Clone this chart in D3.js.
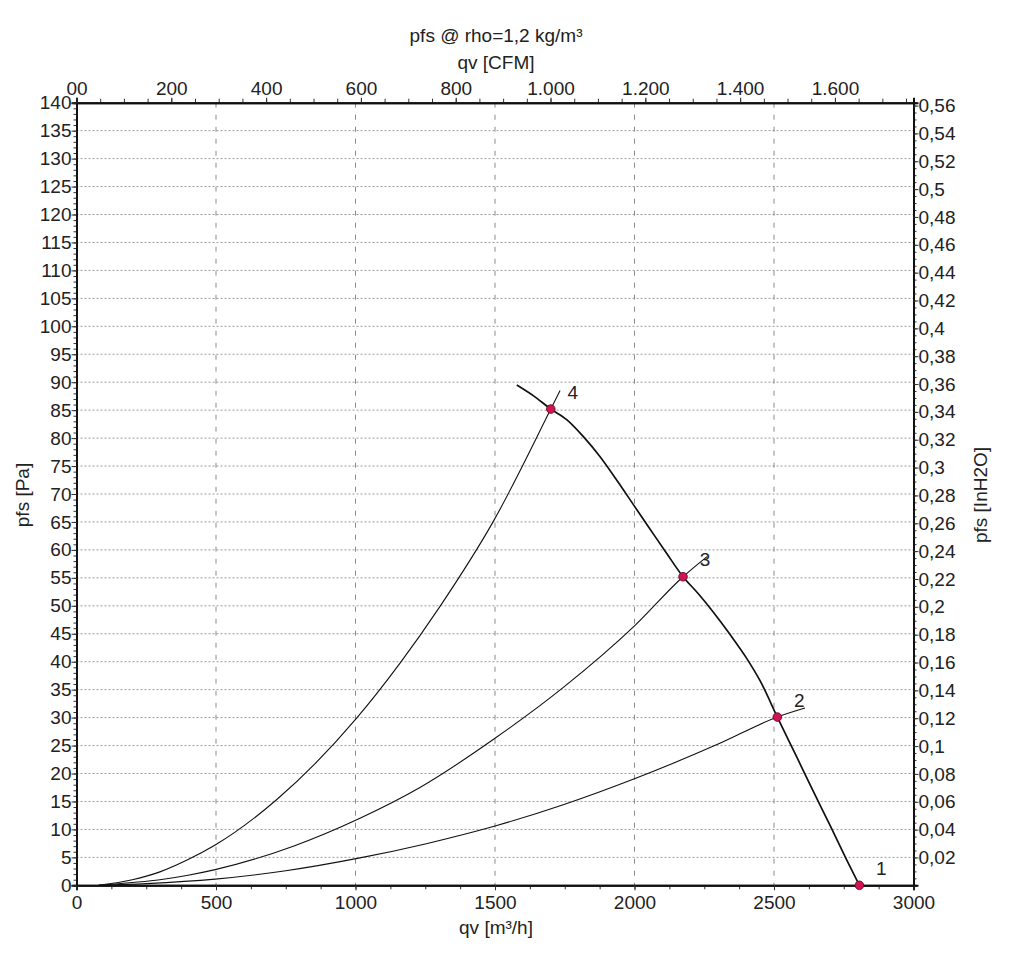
<!DOCTYPE html>
<html><head><meta charset="utf-8">
<script src="https://cdn.jsdelivr.net/npm/d3@7/dist/d3.min.js"></script>
<style>
body{margin:0;background:#fff;}
text{font-family:"Liberation Sans",Arial,sans-serif;fill:#222;}
</style></head>
<body><svg id="c" width="1024" height="969"></svg>
<script>
// ---- data ----
const fanQ = [1578,1637,1700,1757,1816,1876,1936,1996,2056,2115,2174,2228,2282,2342,2402,2450,2512,2581,2641,2701,2760,2806];
const fanP = [89.5,87.6,85.2,83.3,80.3,76.7,72.5,68.1,63.7,59.4,55.2,52.2,48.9,44.9,40.6,36.6,30.1,23.0,16.8,10.7,4.6,0];

const sys4Q = [80,200,299,400,497,717,1004,1159,1303,1494,1700,1733];
const sys4P = [0,1.0,2.4,4.6,7.2,15.3,29.9,39.7,49.9,65.1,85.2,88.5];
const sys3Q = [80,200,299,400,497,777,1016,1231,1500,1745,2002,2174,2260];
const sys3P = [0,0.5,1.0,1.8,2.8,7.0,12.0,17.5,26.3,35.4,46.5,55.2,58.8];
const sys2Q = [80,250,497,750,1016,1250,1500,1750,2002,2306,2512,2611];
const sys2P = [0,0.3,1.1,2.6,4.9,7.4,10.6,14.5,19.1,25.4,30.1,31.7];

const opLabels = ["1","2","3","4"];
const opQ = [2806,2512,2174,1700];
const opP = [0,30.1,55.2,85.2];

const xTicks = [0,500,1000,1500,2000,2500,3000];
const yTicks = d3.range(0,141,5);
const cfmTicks = [0,200,400,600,800,1000,1200,1400,1600];
const cfmLabels = ["00","200","400","600","800","1.000","1.200","1.400","1.600"];
const inTicks = [0.02,0.04,0.06,0.08,0.1,0.12,0.14,0.16,0.18,0.2,0.22,0.24,0.26,0.28,0.3,0.32,0.34,0.36,0.38,0.4,0.42,0.44,0.46,0.48,0.5,0.52,0.54,0.56];

const CFM_PER_M3H = 0.588578;
const INH2O_PER_PA = 0.00401463;

// ---- layout ----
const FS = "19px";
const L=76.5, R=913.5, T=102.7, B=885.3;
const svg = d3.select("#c");
const x = d3.scaleLinear().domain([0,3000]).range([L,R]);
const y = d3.scaleLinear().domain([0,140]).range([B,T]);
const xT = d3.scaleLinear().domain([0,3000*CFM_PER_M3H]).range([L,R]);
const yR = d3.scaleLinear().domain([0,140*INH2O_PER_PA]).range([B,T]);

// grid
const g = svg.append("g");
g.selectAll(".hg").data(yTicks.filter(v=>v>0&&v<140)).join("line")
  .attr("x1",L).attr("x2",R).attr("y1",d=>y(d)).attr("y2",d=>y(d))
  .attr("stroke","#9a9a9a").attr("stroke-width",1).attr("stroke-dasharray","2,2");
g.selectAll(".vg").data(xTicks.filter(v=>v>0&&v<3000)).join("line")
  .attr("x1",d=>x(d)).attr("x2",d=>x(d)).attr("y1",T).attr("y2",B)
  .attr("stroke","#8a8a8a").attr("stroke-width",1).attr("stroke-dasharray","5,7");

function styleAxis(sel){
  sel.selectAll("path.domain").attr("stroke","#111").attr("stroke-width",2);
  sel.selectAll(".tick line").attr("stroke","#333");
  sel.selectAll("text").attr("font-size",FS).attr("fill","#222");
}
// minor ticks
const minorL = d3.range(0,141,1), minorB = d3.range(0,3001,125), minorT = d3.range(0,1766,50), minorR = d3.range(0,0.5621,0.005);
const ax = svg.append("g");
ax.append("g").attr("transform",`translate(${L},0)`).call(d3.axisLeft(y).tickValues(minorL).tickSize(3).tickFormat(""));
ax.append("g").attr("transform",`translate(0,${B})`).call(d3.axisBottom(x).tickValues(minorB).tickSize(4).tickFormat(""));
ax.append("g").attr("transform",`translate(0,${T})`).call(d3.axisTop(xT).tickValues(minorT).tickSize(4).tickFormat(""));
ax.append("g").attr("transform",`translate(${R},0)`).call(d3.axisRight(yR).tickValues(minorR).tickSize(3).tickFormat(""));
ax.selectAll("g").each(function(){styleAxis(d3.select(this));});

const aL = svg.append("g").attr("transform",`translate(${L},0)`)
  .call(d3.axisLeft(y).tickValues(yTicks).tickSize(5).tickPadding(0).tickFormat(d3.format("d")));
const aB = svg.append("g").attr("transform",`translate(0,${B})`)
  .call(d3.axisBottom(x).tickValues(xTicks).tickSize(5).tickPadding(5).tickFormat(d3.format("d")));
const aT = svg.append("g").attr("transform",`translate(0,${T})`)
  .call(d3.axisTop(xT).tickValues(cfmTicks).tickSize(5).tickPadding(3).tickFormat((d,i)=>cfmLabels[i]));
const aR = svg.append("g").attr("transform",`translate(${R},0)`)
  .call(d3.axisRight(yR).tickValues(inTicks).tickSize(5).tickPadding(0)
    .tickFormat(d=>String(+d.toFixed(3)).replace(".",",")));
[aL,aB,aT,aR].forEach(styleAxis);

// curves
const line = d3.line().x(d=>x(d[0])).y(d=>y(d[1])).curve(d3.curveMonotoneX);
const plot = svg.append("g");
[[sys2Q,sys2P],[sys3Q,sys3P],[sys4Q,sys4P]].forEach(([q,p])=>{
  plot.append("path").datum(q.map((v,i)=>[v,p[i]])).attr("d",line)
    .attr("fill","none").attr("stroke","#111").attr("stroke-width",1.1);
});
plot.append("path").datum(fanQ.map((v,i)=>[v,fanP[i]])).attr("d",line)
  .attr("fill","none").attr("stroke","#111").attr("stroke-width",1.7);

// operating points
plot.selectAll("circle").data(opQ).join("circle")
  .attr("cx",d=>x(d)).attr("cy",(d,i)=>y(opP[i])).attr("r",4.3)
  .attr("fill","#d01452").attr("stroke","#6a0a25").attr("stroke-width",0.9);
plot.selectAll("text.op").data(opLabels).join("text").attr("class","op")
  .attr("x",(d,i)=>x(opQ[i])+22).attr("y",(d,i)=>y(opP[i])-17)
  .attr("text-anchor","middle").attr("dominant-baseline","central")
  .attr("font-size",FS).text(d=>d);

// titles
const title = (t,xx,yy,rot)=>svg.append("text")
  .attr("transform",`translate(${xx},${yy})`+(rot?" rotate(-90)":""))
  .attr("text-anchor","middle").attr("dominant-baseline","central")
  .attr("font-size",FS).text(t);
title("pfs @ rho=1,2 kg/m³",496,35);
title("qv [CFM]",496,62);
title("qv [m³/h]",496,927);
title("pfs [Pa]",22,495,true);
title("pfs [InH2O]",980,495,true);
</script></body></html>
